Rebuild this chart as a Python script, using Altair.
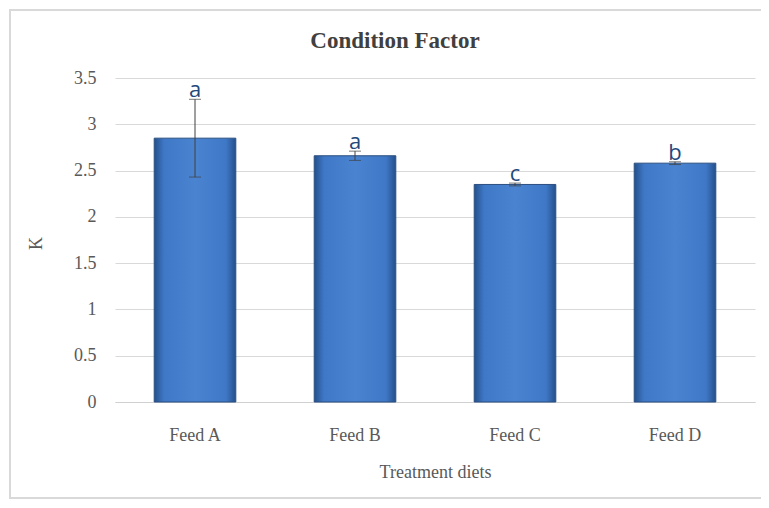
import altair as alt
import pandas as pd

feeds = ["Feed A", "Feed B", "Feed C", "Feed D"]
means = [2.85, 2.66, 2.35, 2.58]
errs = [0.42, 0.05, 0.015, 0.015]
letters = ["a", "a", "c", "b"]
title_text = "Condition Factor"

df = pd.DataFrame({"feed": feeds, "k": means, "err": errs, "letter": letters})
df["lo"] = df["k"] - df["err"]
df["hi"] = df["k"] + df["err"]

xenc = alt.X("feed:N", sort=feeds,
             scale=alt.Scale(paddingInner=0.49, paddingOuter=0.245),
             axis=alt.Axis(title="Treatment diets", labelAngle=0, labelPadding=24,
                           titlePadding=19, ticks=False, grid=False, domainColor="#d0d0d0",
                           labelFont="Liberation Serif", titleFont="Liberation Serif",
                           labelFontSize=18, titleFontSize=18, labelColor="#595959",
                           titleColor="#595959", titleFontWeight="normal"))

yscale = alt.Scale(domain=[0, 3.5])
yaxis = alt.Axis(title="K", values=[0, 0.5, 1, 1.5, 2, 2.5, 3, 3.5], format="~g",
                 domain=False, ticks=False, labelPadding=19, gridColor="#d9d9d9",
                 labelFont="Liberation Serif", titleFont="Liberation Serif",
                 labelFontSize=18, titleFontSize=18, labelColor="#595959",
                 titleColor="#595959", titleFontWeight="normal",
                 titleX=-70, titleY=165)

base = alt.Chart(df)
one = base.transform_filter("datum.feed == 'Feed A'")

border = one.mark_rect(fillOpacity=0, stroke="#d9d9d9", strokeWidth=2, clip=False).encode(
    x=alt.value(-105), x2=alt.value(647), y=alt.value(-68), y2=alt.value(420)
)

title = one.mark_text(font="Liberation Serif", fontSize=23, fontWeight="bold",
                      color="#404040", align="center", baseline="alphabetic").encode(
    x=alt.value(280), y=alt.value(-30), text=alt.value(title_text)
)

bars = base.mark_bar(
    stroke="#2b4f80", strokeWidth=1,
    color=alt.Gradient(
        gradient="linear", x1=0, x2=1, y1=0, y2=0,
        stops=[alt.GradientStop(color="#24508c", offset=0),
               alt.GradientStop(color="#3f78c6", offset=0.12),
               alt.GradientStop(color="#4a83d0", offset=0.5),
               alt.GradientStop(color="#3f78c6", offset=0.88),
               alt.GradientStop(color="#24508c", offset=1)])
).encode(x=xenc, y=alt.Y("k:Q", scale=yscale, axis=yaxis))

rules = base.mark_rule(color="#404040", strokeWidth=1).encode(
    x=alt.X("feed:N", sort=feeds), y="lo:Q", y2="hi:Q")
caps_hi = base.mark_tick(color="#404040", thickness=1, size=12, orient="horizontal").encode(
    x=alt.X("feed:N", sort=feeds), y="hi:Q")
caps_lo = base.mark_tick(color="#404040", thickness=1, size=12, orient="horizontal").encode(
    x=alt.X("feed:N", sort=feeds), y="lo:Q")

text = base.mark_text(font="Open Sans", fontSize=22, color="#1f497d",
                      baseline="bottom", dy=3).encode(
    x=alt.X("feed:N", sort=feeds), y="hi:Q", text="letter:N")

chart = alt.layer(border, title, bars, rules, caps_hi, caps_lo, text).properties(
    width=640, height=324,
    autosize=alt.AutoSizeParams(type="none"),
    padding={"left": 107, "top": 70, "right": 6, "bottom": 98},
).configure(background="white").configure_view(stroke="transparent", strokeWidth=0)

chart.save("out.html", embed_options={"renderer": "svg", "actions": False})
